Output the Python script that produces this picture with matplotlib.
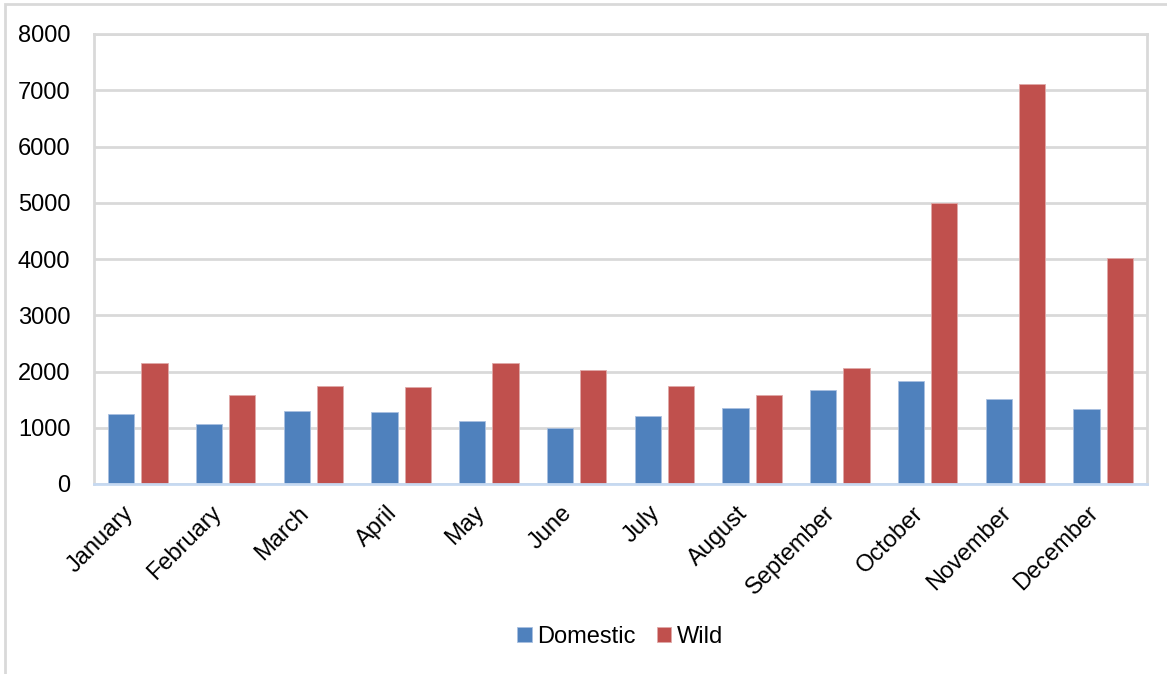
import matplotlib.pyplot as plt
from matplotlib.patches import Rectangle
import numpy as np

months = ["January", "February", "March", "April", "May", "June",
          "July", "August", "September", "October", "November", "December"]
domestic = [1240, 1060, 1295, 1280, 1125, 995, 1205, 1345, 1680, 1835, 1505, 1335]
wild = [2150, 1585, 1735, 1720, 2150, 2020, 1745, 1585, 2065, 5000, 7105, 4020]

blue = "#4f81bd"
red = "#c0504d"

plt.rcParams['font.family'] = ['Liberation Sans', 'DejaVu Sans']

fig = plt.figure(figsize=(11.67, 6.74), dpi=100)
ax = fig.add_axes([94 / 1167, 1 - 484 / 674, (1147 - 94) / 1167, (484 - 34) / 674])

# light frame around the whole chart
fig.patches.append(Rectangle((4.5 / 1167, -0.1), 1.2, 1.1 - 4.5 / 674,
                             transform=fig.transFigure, fill=False,
                             edgecolor="#d9d9d9", linewidth=2))

x = np.arange(len(months))
w = 0.30
off = 0.19
ax.bar(x - off, domestic, w, color=blue, edgecolor="#a9c0e0", linewidth=0.6, label="Domestic", zorder=3)
ax.bar(x + off, wild, w, color=red, edgecolor="#e0a9a8", linewidth=0.6, label="Wild", zorder=3)

ax.set_xlim(-0.5, len(months) - 0.5)
ax.set_ylim(0, 8000)
ax.set_yticks(np.arange(0, 8001, 1000))
ax.yaxis.grid(True, color="#d9d9d9", linewidth=2)
ax.set_axisbelow(True)

for side in ["left", "right", "top"]:
    ax.spines[side].set_color("#d9d9d9")
    ax.spines[side].set_linewidth(2)
ax.spines["bottom"].set_color("#c6d9f1")
ax.spines["bottom"].set_linewidth(2)
ax.spines["bottom"].set_zorder(4)

ax.tick_params(axis="both", length=0, labelsize=17)
ax.tick_params(axis="y", pad=17)
ax.set_xticks(x)
ax.set_xticklabels(months, rotation=45, ha="right", va="top", rotation_mode="default")
ax.tick_params(axis="x", pad=13)

ax.legend(loc="center", bbox_to_anchor=(0.5, (637 - 484) / -450),
          ncol=2, frameon=False, fontsize=17, handlelength=0.6, handleheight=0.6,
          handletextpad=0.25, columnspacing=0.9)

fig.savefig("out.png")
